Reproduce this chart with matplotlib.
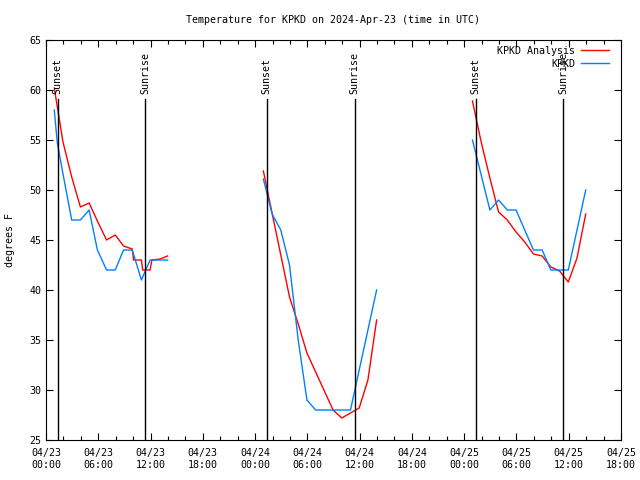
# -*- coding: utf-8 -*-
"""Temperature for KPKD on 2024-Apr-23: analysis vs. observations, gnuplot look."""
import numpy as np
import pandas as pd
import matplotlib
matplotlib.use('Agg')
import matplotlib.pyplot as plt
import matplotlib.dates as mdates

START = pd.Timestamp('2024-04-23 00:00')
END = pd.Timestamp('2024-04-25 18:00')

# hours after 04/23 00:00 UTC, one list per night (gaps between them)
analysis_hours = [
    [0.95, 1.95, 2.95, 3.95, 4.95, 5.95, 6.95, 7.95, 8.9, 9.9, 10.05, 10.95,
     11.1, 11.95, 12.15, 13.1, 13.95],
    [24.95, 25.95, 26.95, 27.95, 28.95, 29.95, 30.95, 31.95, 32.95, 33.95,
     34.95, 35.95, 36.95, 37.95],
    [48.95, 49.95, 50.95, 51.95, 52.95, 53.95, 54.95, 55.95, 56.95, 57.95,
     58.95, 59.95, 60.95, 61.95],
]
analysis_temp = [
    [60.2, 54.8, 51.3, 48.3, 48.7, 46.8, 45.0, 45.5, 44.4, 44.1, 43.0, 43.0,
     42.0, 42.0, 43.0, 43.1, 43.4],
    [51.9, 47.7, 43.5, 39.3, 36.6, 33.7, 31.8, 29.9, 28.0, 27.2, 27.7, 28.2,
     31.0, 37.0],
    [58.9, 54.8, 51.2, 47.8, 47.0, 45.8, 44.8, 43.6, 43.4, 42.3, 41.9, 40.8,
     43.2, 47.6],
]

obs_hours = [
    [0.95, 1.3, 1.95, 2.95, 3.95, 4.95, 5.9, 6.95, 7.95, 8.9, 9.9, 10.95,
     11.95, 12.95, 13.95],
    [24.95, 25.95, 26.95, 27.95, 28.95, 29.95, 30.95, 31.95, 32.95, 33.95,
     34.95, 35.45, 35.95, 36.95, 37.95],
    [48.95, 49.95, 50.95, 51.95, 52.95, 53.95, 54.95, 55.95, 56.95, 57.95,
     58.95, 59.95, 60.95, 61.95],
]
obs_temp = [
    [58, 54.7, 51.6, 47, 47, 48, 44, 42, 42, 44, 44, 41, 43, 43, 43],
    [51.1, 47.6, 46.0, 42.5, 35.0, 29.0, 28, 28, 28, 28, 28, 30, 32, 36, 40],
    [55, 51.5, 48, 49, 48, 48, 46, 44, 44, 42, 42, 42, 46, 50],
]

sun_hours = [1.33, 11.37, 25.35, 35.42, 49.33, 59.35]
sun_labels = ['Sunset', 'Sunrise', 'Sunset', 'Sunrise', 'Sunset', 'Sunrise']


def join_segments(hours, values):
    """Concatena los tramos con NaN entre ellos para que la linea se corte."""
    t, v = [], []
    for h, y in zip(hours, values):
        t += [START + pd.Timedelta(hours=x) for x in h] + [pd.NaT]
        v += list(y) + [np.nan]
    return pd.to_datetime(t[:-1]), np.array(v[:-1], dtype=float)


def main():
    plt.rcParams['font.family'] = ['DejaVu Sans Mono']
    plt.rcParams['font.size'] = 7.2

    fig = plt.figure(figsize=(6.4, 4.8), dpi=100)
    ax = fig.add_axes([46 / 640, 40 / 480, 575 / 640, 400 / 480])

    t_a, v_a = join_segments(analysis_hours, analysis_temp)
    t_o, v_o = join_segments(obs_hours, obs_temp)

    ax.plot(t_a, v_a, color='#ff0000', lw=1.0, label='KPKD Analysis')
    ax.plot(t_o, v_o, color='#0080ff', lw=1.0, label='KPKD')

    for h, lab in zip(sun_hours, sun_labels):
        t = START + pd.Timedelta(hours=h)
        ax.plot([t, t], [25, 59.1], color='black', lw=1.0)
        ax.text(t, 59.6, lab, rotation=90, ha='center', va='bottom')

    ax.set_xlim(START, END)
    ax.set_ylim(25, 65)
    ax.set_yticks(np.arange(25, 66, 5))
    ax.xaxis.set_major_locator(mdates.HourLocator(byhour=range(0, 24, 6)))
    ax.xaxis.set_minor_locator(mdates.HourLocator(byhour=range(0, 24, 2)))
    ax.xaxis.set_major_formatter(mdates.DateFormatter('%m/%d\n%H:%M'))
    ax.tick_params(which='both', direction='in', top=True, right=True,
                   width=0.8, labelsize=7.2)
    ax.tick_params(which='major', length=5)
    ax.tick_params(which='minor', length=3)
    ax.tick_params(axis='x', pad=6)

    ax.set_title('Temperature for KPKD on 2024-Apr-23 (time in UTC)',
                 fontsize=7.2, pad=12)
    ax.set_ylabel('degrees F', fontsize=7.2, labelpad=10)

    ax.legend(loc='upper right', bbox_to_anchor=(0.99, 1.0), frameon=False,
              markerfirst=False, handlelength=2.8, borderaxespad=0.2,
              labelspacing=0.3, handletextpad=0.6, fontsize=7.2)

    fig.savefig('out.png', dpi=100)


if __name__ == '__main__':
    main()
